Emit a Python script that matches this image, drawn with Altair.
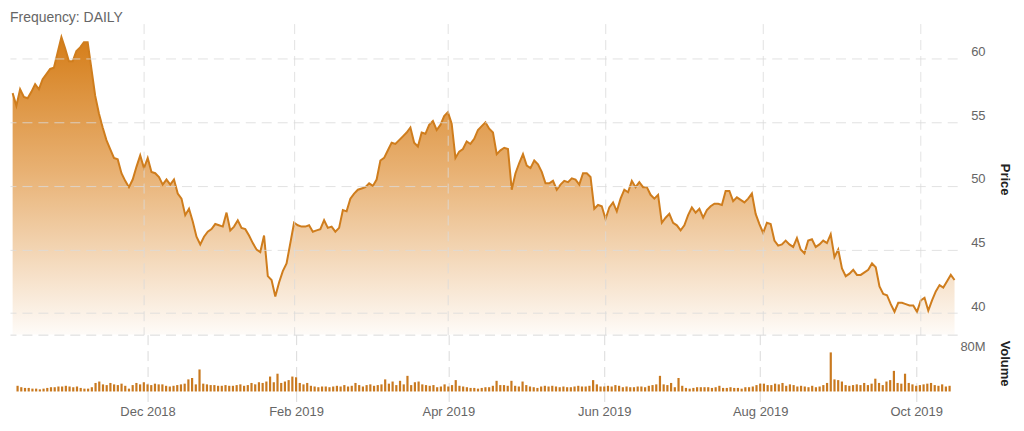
import altair as alt
import pandas as pd

# Daily closing price (one value per trading day)
price = [
    57.3, 56.3, 57.6, 57.0, 56.9, 57.4, 58.0, 57.6, 58.4, 58.8,
    59.2, 59.3, 60.5, 61.7, 60.8, 59.8, 59.8, 60.6, 60.9, 61.3,
    61.3, 59.2, 57.1, 55.7, 54.6, 53.6, 52.9, 52.2, 52.1, 51.0,
    50.4, 49.9, 50.5, 51.5, 52.4, 51.4, 52.2, 51.1, 51.0, 50.7,
    50.1, 50.5, 50.1, 50.5, 49.4, 49.0, 47.7, 48.2, 47.2, 46.0,
    45.4, 46.0, 46.4, 46.6, 47.0, 46.9, 46.8, 47.9, 46.5, 46.8,
    47.3, 46.7, 46.6, 46.1, 45.5, 45.0, 44.8, 46.1, 42.9, 42.6,
    41.3, 42.4, 43.3, 43.9, 45.5, 47.1, 46.9, 46.8, 46.8, 46.9,
    46.4, 46.5, 46.6, 47.3, 46.7, 46.8, 46.4, 46.7, 48.1, 48.0,
    49.0, 49.4, 49.7, 49.8, 49.9, 50.2, 50.0, 50.5, 52.0, 52.2,
    52.8, 53.4, 53.3, 53.6, 53.9, 54.2, 54.6, 53.4, 53.1, 54.2,
    54.1, 54.8, 55.1, 54.4, 54.8, 55.5, 55.8, 54.9, 52.2, 52.7,
    52.9, 53.5, 53.3, 53.7, 54.4, 54.7, 55.0, 54.5, 54.2, 52.5,
    52.8, 53.0, 52.9, 49.7, 51.0, 51.8, 52.5, 51.6, 51.4, 52.0,
    51.7, 51.1, 50.2, 50.2, 50.4, 49.7, 50.1, 50.4, 50.3, 50.6,
    50.5, 50.1, 51.0, 51.0, 50.7, 48.2, 48.5, 48.4, 47.4, 48.3,
    48.7, 48.0, 49.0, 49.7, 49.5, 50.4, 49.9, 50.3, 49.9, 49.9,
    49.3, 49.0, 49.3, 47.1, 47.5, 47.8, 47.1, 46.9, 46.5, 46.9,
    47.7, 48.3, 47.9, 48.2, 47.5, 48.1, 48.4, 48.6, 48.6, 48.5,
    49.6, 49.6, 48.8, 49.1, 48.9, 48.7, 49.0, 49.4, 47.8, 47.0,
    46.3, 47.1, 47.0, 45.7, 45.3, 45.4, 45.7, 45.4, 45.2, 45.9,
    45.0, 44.7, 45.7, 45.8, 45.2, 45.4, 45.7, 45.5, 46.2, 44.4,
    45.0, 43.5, 42.9, 43.1, 43.4, 43.0, 43.0, 43.2, 43.4, 43.9,
    43.6, 42.1, 41.5, 41.4, 40.7, 40.1, 40.8, 40.8, 40.7, 40.6,
    40.6, 40.1, 41.0, 41.2, 40.2, 41.0, 41.7, 42.2, 42.0, 42.5,
    43.0, 42.6,
]

# Daily volume, millions of shares
volume_m = [
    8, 6, 5, 5, 4, 4, 3, 4, 5, 6,
    6, 7, 7, 8, 7, 6, 7, 5, 4, 4,
    6, 12, 14, 10, 9, 12, 10, 9, 11, 8,
    4, 9, 12, 10, 13, 10, 9, 11, 10, 10,
    8, 7, 8, 9, 10, 11, 17, 19, 10, 31,
    11, 10, 9, 9, 8, 8, 9, 8, 8, 9,
    10, 8, 9, 12, 10, 13, 12, 14, 21, 13,
    25, 12, 14, 16, 21, 20, 12, 10, 12, 8,
    7, 6, 7, 7, 6, 7, 8, 7, 9, 7,
    8, 12, 9, 7, 9, 10, 8, 9, 10, 17,
    11, 14, 9, 15, 10, 22, 9, 13, 14, 10,
    9, 8, 9, 6, 7, 10, 7, 9, 16, 8,
    7, 6, 5, 5, 4, 5, 6, 6, 8, 15,
    9, 9, 8, 15, 8, 7, 14, 9, 7, 6,
    5, 7, 8, 7, 8, 7, 6, 7, 6, 6,
    7, 8, 7, 7, 8, 16, 10, 7, 7, 8,
    7, 9, 8, 6, 7, 6, 6, 7, 7, 6,
    8, 9, 10, 22, 10, 9, 12, 6, 19, 8,
    5, 4, 5, 6, 6, 6, 6, 5, 6, 8,
    5, 5, 6, 5, 5, 4, 6, 6, 7, 9,
    11, 11, 9, 9, 11, 10, 12, 8, 10, 9,
    7, 8, 7, 6, 8, 6, 7, 9, 12, 55,
    17, 16, 14, 9, 8, 9, 10, 9, 12, 9,
    11, 18, 12, 9, 14, 16, 29, 12, 11, 25,
    12, 10, 8, 9, 10, 11, 12, 9, 8, 10,
    7, 8,
]

# Trading-day index of the first session of each labelled month
tick_idx = [35, 75, 116, 158, 200, 242]
tick_labels = ["Dec 2018", "Feb 2019", "Apr 2019", "Jun 2019", "Aug 2019", "Oct 2019"]

price_ticks = [40, 45, 50, 55, 60]
price_domain = [38.3, 62.77]
volume_ticks = [80]
volume_tick_labels = ["80M"]

df = pd.DataFrame({
    "i": list(range(len(price))),
    "price": price,
    "volume": volume_m,
})

FONT = "Liberation Sans"
GRID = "#dadada"
DASH = [10, 6]
LINE = "#cf7d1d"
BAR = "#c9791f"

label_expr = " : ".join(
    f"datum.value == {i} ? '{l}'" for i, l in zip(tick_idx, tick_labels)
) + " : ''"
vol_label_expr = " : ".join(
    f"datum.value == {v} ? '{l}'" for v, l in zip(volume_ticks, volume_tick_labels)
) + " : ''"

xscale = alt.Scale(domain=[-0.7, 251.7], nice=False, zero=False)

gradient = alt.Gradient(
    gradient="linear",
    x1=0, y1=0, x2=0, y2=1,
    stops=[
        alt.GradientStop(offset=0, color="#d57d18"),
        alt.GradientStop(offset=0.45, color="#e8b173"),
        alt.GradientStop(offset=1, color="#fefbf8"),
    ],
)

x_price = alt.X(
    "i:Q", scale=xscale,
    axis=alt.Axis(values=tick_idx, grid=True, labels=False, ticks=False,
                  domain=False, title=None, gridDash=DASH, gridColor=GRID,
                  gridOpacity=0.8, zindex=1),
)
y_price = alt.Y(
    "price:Q",
    scale=alt.Scale(domain=price_domain, zero=False, nice=False),
    axis=alt.Axis(orient="right", values=price_ticks, grid=True, gridDash=DASH,
                  gridColor=GRID, gridOpacity=0.8, zindex=1, ticks=False,
                  domain=False, title="Price",
                  labelAlign="right", labelPadding=28, labelBaseline="alphabetic",
                  labelOffset=-3, labelColor="#666", labelFontSize=13,
                  labelFlush=False, titlePadding=12, titleColor="#222",
                  titleFontSize=13, titleFontWeight="bold"),
)

base = alt.Chart(df).encode(x=x_price)
area = base.mark_area(color=gradient, clip=True).encode(
    y=y_price, y2=alt.datum(price_domain[0])
)
line = base.mark_line(color=LINE, strokeWidth=2, clip=True).encode(y="price:Q")
price_chart = alt.layer(area, line).properties(width=950, height=312)

vol_chart = alt.Chart(df).mark_bar(color=BAR, size=2.2).encode(
    x=alt.X(
        "i:Q", scale=xscale,
        axis=alt.Axis(values=tick_idx, labelExpr=label_expr, grid=True,
                      gridDash=DASH, gridColor=GRID, ticks=True, tickSize=10,
                      tickColor=GRID, tickDash=DASH, domain=False, title=None,
                      labelColor="#666", labelFontSize=13, labelPadding=4,
                      labelFlush=False),
    ),
    y=alt.Y(
        "volume:Q",
        scale=alt.Scale(domain=[0, 80], nice=False),
        axis=alt.Axis(orient="right", values=volume_ticks, labelExpr=vol_label_expr,
                      grid=True, gridDash=DASH, gridColor=GRID, ticks=False,
                      domain=False, title="Volume", labelAlign="right",
                      labelPadding=28, labelBaseline="alphabetic", labelOffset=16,
                      labelColor="#666", labelFontSize=13, labelFlush=False,
                      titlePadding=12, titleColor="#222", titleFontSize=13,
                      titleFontWeight="bold"),
    ),
).properties(width=950, height=57)

chart = alt.vconcat(price_chart, vol_chart, spacing=0).properties(
    title=alt.TitleParams("Frequency: DAILY", anchor="start", fontSize=14,
                          color="#666", fontWeight="normal", font=FONT, offset=-1),
    padding={"left": 2, "top": 2, "right": 6, "bottom": 2},
).configure_view(stroke=None).configure_axis(
    labelFont=FONT, titleFont=FONT
)

chart.save("out.html", embed_options={"renderer": "svg", "actions": False})
